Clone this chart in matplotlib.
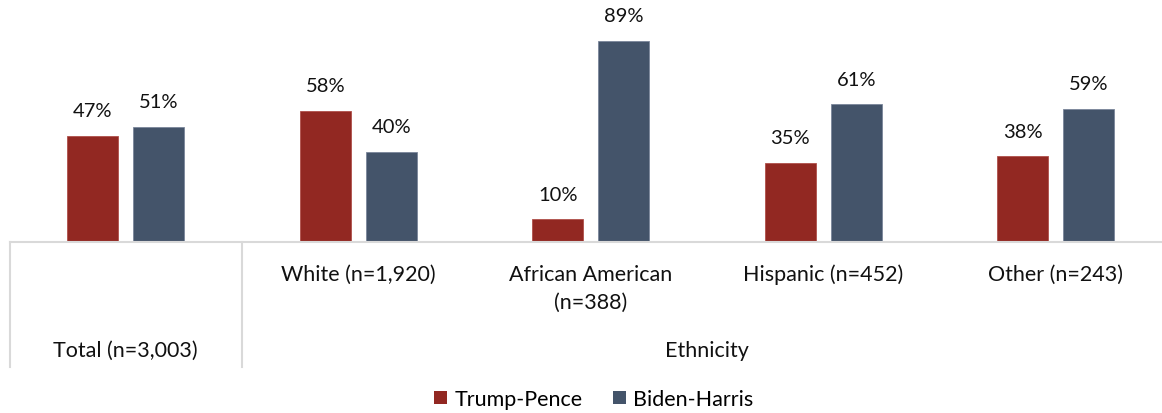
import matplotlib.pyplot as plt
import numpy as np
from matplotlib.lines import Line2D
from matplotlib.patches import Patch
from matplotlib.transforms import blended_transform_factory

plt.rcParams["font.family"] = ["Lato", "DejaVu Sans"]

categories = ["Total (n=3,003)", "White (n=1,920)", "African American\n(n=388)",
              "Hispanic (n=452)", "Other (n=243)"]
groups = ["Total (n=3,003)", "Ethnicity"]
trump = [47, 58, 10, 35, 38]
biden = [51, 40, 89, 61, 59]
series_names = ["Trump-Pence", "Biden-Harris"]

RED = "#922822"
BLUE = "#44546A"
GRID = "#D9D9D9"
TXT = "#111111"

W, H = 1162, 414
fig = plt.figure(figsize=(W / 100, H / 100), dpi=100)
# axis spans 9.5px .. 1172px horizontally, baseline at 242px from top
ax = fig.add_axes([9.5 / W, (H - 243) / H, (1172 - 9.5) / W, 226 / H])

x = np.arange(len(categories))
bw = 0.22
off = 0.142
b1 = ax.bar(x - off, trump, bw, color=RED, edgecolor="#B0504A", linewidth=0.6)
b2 = ax.bar(x + off, biden, bw, color=BLUE, edgecolor="#7A869A", linewidth=0.6)

for bars, vals in [(b1, trump), (b2, biden)]:
    for bar, v in zip(bars, vals):
        ax.annotate(f"{v}%", (bar.get_x() + bar.get_width() / 2, v),
                    xytext=(0, 18), textcoords="offset points",
                    ha="center", va="center", fontsize=14.5, color=TXT)

ax.set_xlim(-0.5, len(categories) - 0.5)
ax.set_ylim(0, 100)
ax.set_xticks([])
ax.set_yticks([])
for side in ["top", "left", "right"]:
    ax.spines[side].set_visible(False)
ax.spines["bottom"].set_color(GRID)
ax.spines["bottom"].set_linewidth(1.5)

trans = blended_transform_factory(ax.transData, fig.transFigure)

# first level of category labels (ethnicity breakdown)
for xi, lab in zip(x[1:], categories[1:]):
    for k, line in enumerate(lab.split("\n")):
        ax.text(xi, (H - 275 - 28 * k) / H, line, transform=trans, ha="center",
                va="center", fontsize=15.5, color=TXT)

# second level: group labels
ax.text(0, (H - 351) / H, groups[0], transform=trans, ha="center", va="center",
        fontsize=15.5, color=TXT)
ax.text(2.5, (H - 351) / H, groups[1], transform=trans, ha="center", va="center",
        fontsize=15.5, color=TXT)

# group dividers
for xd in [-0.5, 0.5, 4.5]:
    ax.add_line(Line2D([xd, xd], [(H - 243) / H, (H - 368) / H], transform=trans,
                       color=GRID, linewidth=1.5, clip_on=False))

handles = [Patch(facecolor=RED, label=series_names[0]),
           Patch(facecolor=BLUE, label=series_names[1])]
fig.legend(handles=handles, loc="center", bbox_to_anchor=(0.511, 0.034), ncol=2,
           frameon=False, fontsize=15.5, handlelength=0.6, handleheight=0.6,
           handletextpad=0.35, columnspacing=1.4)

fig.savefig("out.png", dpi=100)
